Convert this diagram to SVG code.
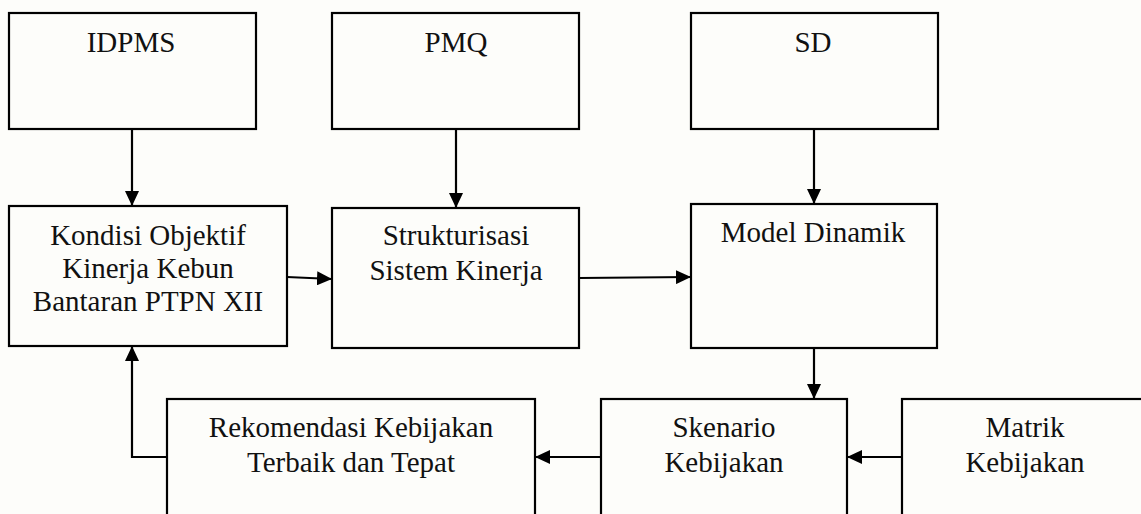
<svg xmlns="http://www.w3.org/2000/svg" width="1141" height="514" viewBox="0 0 1141 514">
<style>
.box{fill:none;stroke:#000;stroke-width:2.2}
.t{font-family:"Liberation Serif","Times New Roman",serif;font-size:29px;fill:#111;text-anchor:middle}
.c{fill:none;stroke:#000;stroke-width:2.2;marker-end:url(#ah)}
</style>
<defs>
<marker id="ah" markerUnits="userSpaceOnUse" markerWidth="16" markerHeight="14" refX="15" refY="7" orient="auto">
<path d="M0,0 L15,7 L0,14 Z" fill="#000"/>
</marker>
</defs>
<rect x="0" y="0" width="1141" height="514" fill="#fdfdfa"/>
<g id="idpms"><rect class="box" x="9" y="13" width="247" height="116"/><text class="t" x="131" y="52">IDPMS</text></g>
<g id="pmq"><rect class="box" x="332" y="13" width="247" height="116"/><text class="t" x="456" y="52">PMQ</text></g>
<g id="sd"><rect class="box" x="691" y="13" width="247" height="116"/><text class="t" x="813" y="52">SD</text></g>
<g id="kondisi"><rect class="box" x="9" y="206" width="278" height="140"/><text class="t" x="148" y="245">Kondisi Objektif</text><text class="t" x="148" y="278">Kinerja Kebun</text><text class="t" x="148" y="311">Bantaran PTPN XII</text></g>
<g id="struk"><rect class="box" x="332" y="208" width="247" height="140"/><text class="t" x="456" y="245">Strukturisasi</text><text class="t" x="456" y="280">Sistem Kinerja</text></g>
<g id="model"><rect class="box" x="691" y="204" width="246" height="144"/><text class="t" x="813" y="242">Model Dinamik</text></g>
<g id="rekomendasi"><rect class="box" x="167" y="399" width="368" height="140"/><text class="t" x="351" y="437">Rekomendasi Kebijakan</text><text class="t" x="351" y="472">Terbaik dan Tepat</text></g>
<g id="skenario"><rect class="box" x="601" y="399" width="246" height="140"/><text class="t" x="724" y="437">Skenario</text><text class="t" x="724" y="472">Kebijakan</text></g>
<g id="matrik"><rect class="box" x="902" y="399" width="260" height="140"/><text class="t" x="1025" y="437">Matrik</text><text class="t" x="1025" y="472">Kebijakan</text></g>
<g id="connectors">
<path class="c" d="M132,129 L132,206"/>
<path class="c" d="M456,129 L456,208"/>
<path class="c" d="M814,129 L814,204"/>
<path class="c" d="M287,277 L332,279"/>
<path class="c" d="M579,278 L691,277"/>
<path class="c" d="M814,348 L814,399"/>
<path class="c" d="M601,457 L535,457"/>
<path class="c" d="M902,457 L847,457"/>
<path class="c" d="M167,457 L132,457 L132,346"/>
</g>
</svg>
